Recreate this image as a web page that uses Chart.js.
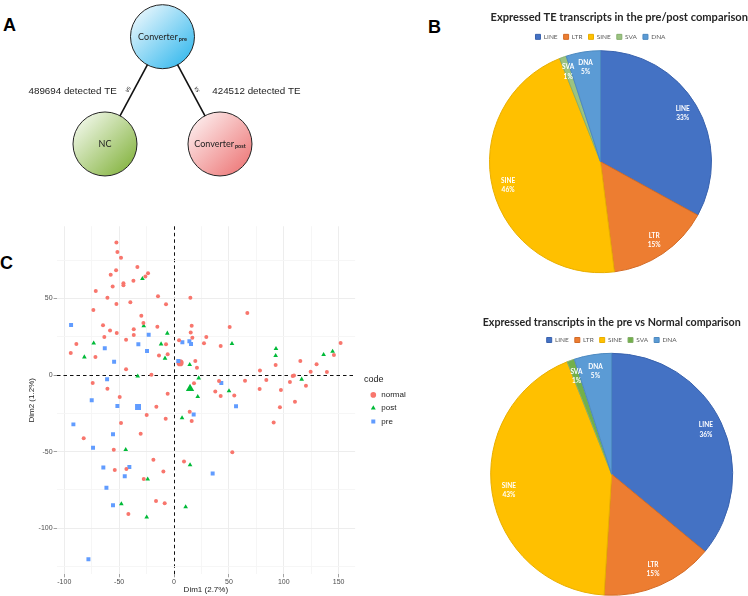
<!DOCTYPE html>
<html>
<head>
<meta charset="utf-8">
<script src="https://cdn.jsdelivr.net/npm/chart.js@4.4.1/dist/chart.umd.min.js"></script>
<style>
  html, body { margin: 0; padding: 0; background: #fff; }
  body { width: 748px; height: 596px; position: relative; overflow: hidden; }
  canvas { position: absolute; }
  .tag { position: absolute; font: bold 18px "Liberation Sans", Arial, sans-serif; line-height: 1; color: #000; }
</style>
</head>
<body>
<div class="tag" style="left:3px;top:16px">A</div>
<div class="tag" style="left:428px;top:18px">B</div>
<div class="tag" style="left:0px;top:254px">C</div>
<canvas id="diagram" width="340" height="190" style="left:0;top:0"></canvas>
<canvas id="pie1" width="308" height="300" style="left:440px;top:0"></canvas>
<canvas id="pie2" width="308" height="310" style="left:440px;top:300px"></canvas>
<canvas id="pca" width="440" height="406" style="left:0;top:190px"></canvas>
<script>
// ---- panel A: comparison diagram ----
const nodeNames = ['Converter', 'NC', 'Converter'];
const nodeSubs = ['pre', '', 'post'];
const nodeCol = [0, -1, 1];
const nodeRow = [1, 0, 0];
const edgeFrom = [0, 0];
const edgeTo = [1, 2];
const edgeCounts = [489694, 424512];

// ---- panel B: TE class shares (%) ----
const teClasses = ['LINE', 'LTR', 'SINE', 'SVA', 'DNA'];
const prePostShare = [33, 15, 46, 1, 5];
const preNormalShare = [36, 15, 43, 1, 5];

// ---- panel C: PCA coordinates ----
const codes = ['normal', 'post', 'pre'];
const normalX = [-52.5,-51.6,-48.3,-33.4,-23.7,-26.1,-52.8,-57.7,-55.9,-46.1,-46.1,-37.0,-71.3,-60.7,-14.6,14.9,-52.5,-39.8,-7.3,-73.5,66.8,-29.8,-27.9,-64.7,16.1,50.7,-15.2,-58.3,-36.7,15.2,-52.2,-36.7,-63.5,29.4,16.7,-43.7,4.6,-89.0,-7.3,27.3,42.5,-94.1,-71.6,-13.7,-5.8,19.4,92.6,20.9,-43.7,-20.6,78.3,115.1,129.9,124.5,139.3,145.7,151.8,108.1,109.3,-74.1,-60.7,-49.5,-5.8,18.2,41.0,64.7,84.1,78.0,97.4,105.6,120.2,37.6,42.5,54.9,110.2,96.5,-16.1,-24.9,-7.6,14.3,16.1,90.8,-48.3,-30.4,-82.3,-54.9,53.1,-18.8,9.1,-43.4,-54.0,-27.6,-9.7,-16.4,-8.5,-41.6];
const normalY = [86.5,80.2,76.5,70.4,66.3,64.3,68.3,65.4,57.8,59.8,58.5,61.5,54.8,50.4,51.3,50.4,46.3,47.4,46.1,42.4,40.4,38.7,33.9,32.4,32.2,31.3,31.5,29.1,29.8,27.8,27.4,26.1,24.8,24.8,24.3,23.0,22.6,20.2,20.0,20.7,18.9,14.3,11.7,12.8,13.5,9.1,6.5,4.8,3.7,0.2,3.0,9.1,7.0,2.2,2.0,13.0,20.9,-0.7,-0.4,-5.2,-8.9,-14.3,-12.2,-5.4,-3.9,-3.7,-3.3,-9.1,-9.8,-4.6,-7.0,-10.7,-13.7,-13.3,-17.4,-21.1,-20.7,-26.1,-28.5,-23.9,-30.0,-30.9,-31.3,-38.3,-41.3,-48.7,-50.4,-55.2,-56.5,-61.3,-62.0,-67.8,-63.0,-82.2,-83.7,-90.7];
const postX = [-28.8,-27.6,-6.1,-73.2,-11.8,52.8,-81.7,-8.2,14.3,-33.1,22.5,21.6,50.1,92.9,92.6,136.3,144.5,116.3,7.3,-44.0,14.6,-24.0,-48.0,10.6,-24.9];
const postY = [62.8,32.0,27.2,20.7,20.2,20.4,11.7,10.9,6.7,-0.7,-2.0,-14.1,-10.4,17.2,12.6,13.3,15.4,-2.8,-28.0,-48.7,-58.7,-68.0,-84.1,-86.1,-92.8];
const preX = [-93.8,-23.1,-32.5,7.6,14.0,15.5,-63.1,-24.6,-54.6,3.9,-61.0,43.1,-75.0,-51.6,56.5,17.9,-91.7,-55.6,-73.8,-64.4,-40.7,-44.9,-61.6,35.2,-55.6,-78.0];
const preY = [32.6,26.3,20.0,21.3,22.0,20.2,17.4,15.7,8.7,9.1,-2.8,-5.2,-16.5,-20.2,-20.4,-25.7,-32.2,-38.7,-47.4,-60.4,-60.0,-66.1,-73.5,-64.3,-85.0,-120.2];
const centerX = [5.5, 14.6, -32.8];
const centerY = [8.0, -8.9, -20.9];
const xTicks = [-100, -75, -50, -25, 0, 25, 50, 75, 100, 125, 150];
const yTicks = [-125, -100, -75, -50, -25, 0, 25, 50, 75];

// ---------------- diagram ----------------
const nodeLight = ['#E2F4FC', '#EDF5E3', '#FCE8E8'];
const nodeDark = ['#3FBCEE', '#8AB748', '#EE7E7E'];

const diagramText = {
    id: 'diagramText',
    afterDatasetsDraw(chart) {
        const ctx = chart.ctx;
        const pts = chart.getDatasetMeta(0).data;
        ctx.save();
        ctx.fillStyle = '#222';
        ctx.textBaseline = 'middle';
        pts.forEach((p, i) => {
            ctx.font = '9px Lato';
            const w1 = ctx.measureText(nodeNames[i]).width;
            ctx.font = 'bold 5.5px Lato';
            const w2 = nodeSubs[i] ? ctx.measureText(nodeSubs[i]).width + 1 : 0;
            const x0 = p.x - (w1 + w2) / 2;
            ctx.textAlign = 'left';
            ctx.font = '9px Lato';
            ctx.fillText(nodeNames[i], x0, p.y);
            if (nodeSubs[i]) {
                ctx.font = 'bold 5.5px Lato';
                ctx.fillText(nodeSubs[i], x0 + w1 + 1, p.y + 2.5);
            }
        });
        edgeFrom.forEach((f, i) => {
            const a = pts[f], b = pts[edgeTo[i]];
            const mx = (a.x + b.x) / 2, my = (a.y + b.y) / 2;
            const side = b.x < a.x ? -1 : 1;
            ctx.font = '9.8px "Liberation Sans"';
            ctx.textAlign = side < 0 ? 'right' : 'left';
            ctx.fillText(edgeCounts[i] + ' detected TE', mx + side * (side < 0 ? 17 : 21), my + 0.5);
            ctx.save();
            ctx.translate(mx + side * 6, my - 1);
            ctx.rotate(Math.atan2(b.y - a.y, b.x - a.x) + (side < 0 ? Math.PI : 0));
            ctx.font = 'italic 6.5px Lato';
            ctx.textAlign = 'center';
            ctx.fillText('vs', 0, 0);
            ctx.restore();
        });
        ctx.restore();
    }
};

new Chart(document.getElementById('diagram'), {
    type: 'bubble',
    data: {
        datasets: [
            {
                data: nodeCol.map((x, i) => ({ x: x, y: nodeRow[i] })),
                radius: 32,
                borderColor: '#222',
                borderWidth: 1,
                backgroundColor(c) {
                    const ch = c.chart;
                    if (c.dataIndex === undefined || !ch.chartArea) return nodeDark[0];
                    const i = c.dataIndex;
                    const cx = ch.scales.x.getPixelForValue(nodeCol[i]);
                    const cy = ch.scales.y.getPixelForValue(nodeRow[i]);
                    const g = ch.ctx.createLinearGradient(cx - 24, cy - 24, cx + 24, cy + 24);
                    g.addColorStop(0, nodeLight[i]);
                    g.addColorStop(1, nodeDark[i]);
                    return g;
                },
                order: 0
            },
            ...edgeFrom.map((f, i) => ({
                type: 'line',
                data: [{ x: nodeCol[f], y: nodeRow[f] }, { x: nodeCol[edgeTo[i]], y: nodeRow[edgeTo[i]] }],
                borderColor: '#111',
                borderWidth: 1.6,
                pointRadius: 0,
                order: 1
            }))
        ]
    },
    options: {
        responsive: false,
        animation: false,
        events: [],
        layout: { padding: 0, autoPadding: false },
        plugins: { legend: { display: false }, tooltip: { enabled: false } },
        scales: {
            x: { type: 'linear', display: false, min: -2.826, max: 3.087 },
            y: { type: 'linear', display: false, min: -0.429, max: 1.342 }
        }
    },
    plugins: [diagramText]
});

// ---------------- pies ----------------
const sliceColors = ['#4472C4', '#ED7D31', '#FFC000', '#9BC382', '#5B9BD5'];
const sliceBorders = ['#3A63AE', '#D36B26', '#E8AE00', '#86AF6C', '#4C89C0'];

const sliceLabels = {
    id: 'sliceLabels',
    afterDatasetsDraw(chart) {
        const ctx = chart.ctx;
        const vals = chart.data.datasets[0].data;
        ctx.save();
        ctx.fillStyle = '#fff';
        ctx.font = 'bold 6.5px Lato';
        ctx.textAlign = 'center';
        ctx.textBaseline = 'middle';
        chart.getDatasetMeta(0).data.forEach((arc, i) => {
            const p = arc.getProps(['x', 'y', 'startAngle', 'endAngle', 'outerRadius'], true);
            const a = (p.startAngle + p.endAngle) / 2;
            const d = p.outerRadius * 0.86;
            const px = p.x + Math.cos(a) * d, py = p.y + Math.sin(a) * d;
            ctx.fillText(chart.data.labels[i], px, py - 4.6);
            ctx.fillText(vals[i] + '%', px, py + 4.6);
        });
        ctx.restore();
    }
};

function pieChart(id, title, values, svaColor, radius, titleSize, titleAlign, titlePad, pad) {
    const bg = sliceColors.slice();
    bg[3] = svaColor;
    return new Chart(document.getElementById(id), {
        type: 'pie',
        data: {
            labels: teClasses,
            datasets: [{
                data: values,
                backgroundColor: bg,
                borderColor: sliceBorders,
                borderWidth: 1,
                radius: radius
            }]
        },
        options: {
            responsive: false,
            animation: false,
            events: [],
            layout: { padding: pad },
            plugins: {
                title: {
                    display: true,
                    text: title,
                    align: titleAlign,
                    color: '#262626',
                    font: { family: 'Lato', size: titleSize, weight: 'bold' },
                    padding: titlePad
                },
                legend: {
                    position: 'top',
                    labels: {
                        boxWidth: 5,
                        boxHeight: 5,
                        padding: 6,
                        color: '#595959',
                        font: { family: 'Lato', size: 6.5 }
                    }
                },
                tooltip: { enabled: false }
            }
        },
        plugins: [sliceLabels]
    });
}

pieChart('pie1', 'Expressed TE transcripts in the pre/post comparison', prePostShare, '#9BC382', 111,
    11.1, 'end', { top: 10.34, bottom: 3.94 }, { left: 13, right: 0, top: 0, bottom: 26.7 });
pieChart('pie2', 'Expressed transcripts in the pre vs Normal comparison', preNormalShare, '#72B04A', 121,
    10.7, 'center', { top: 16.58, bottom: 1.33 }, { left: 35.4, right: 0, top: 0, bottom: 14.65 });

// ---------------- PCA scatter ----------------
const codeColors = ['#F8766D', '#00BA38', '#619CFF'];
const codeShapes = ['circle', 'triangle', 'rect'];
const codeRadius = [2, 2.7, 2.8];
const centerRadius = [3.6, 4.8, 4.2];
const toPts = (xs, ys) => xs.map((x, i) => ({ x: x, y: ys[i] }));
const groups = [toPts(normalX, normalY), toPts(postX, postY), toPts(preX, preY)];
const isMajor = v => v % 50 === 0;
const axisFont = { family: '"Liberation Sans", Arial', size: 7 };

const pcaGrid = {
    color: c => c.tick ? (c.tick.value === 0 ? '#111' : (isMajor(c.tick.value) ? '#EBEBEB' : '#F5F5F5')) : '#EBEBEB',
    lineWidth: c => c.tick && c.tick.value === 0 ? 1 : 0.9,
    tickLength: 3,
    tickColor: c => c.tick && isMajor(c.tick.value) ? '#999' : 'rgba(0,0,0,0)'
};
const pcaBorder = { display: false, dash: c => c.tick && c.tick.value === 0 ? [3.5, 3] : [] };

new Chart(document.getElementById('pca'), {
    type: 'scatter',
    data: {
        datasets: [
            ...codes.map((code, k) => ({
                label: code,
                data: groups[k],
                pointStyle: codeShapes[k],
                radius: codeRadius[k],
                backgroundColor: codeColors[k],
                borderColor: codeColors[k],
                borderWidth: 0
            })),
            ...codes.map((code, k) => ({
                label: code + ' centre',
                data: [{ x: centerX[k], y: centerY[k] }],
                pointStyle: codeShapes[k],
                radius: centerRadius[k],
                backgroundColor: codeColors[k],
                borderColor: codeColors[k],
                borderWidth: 0
            }))
        ]
    },
    options: {
        responsive: false,
        animation: false,
        events: [],
        layout: { padding: { left: 0, top: 36.3, right: 26, bottom: 0 } },
        scales: {
            x: {
                type: 'linear', min: -107, max: 165,
                afterBuildTicks: s => { s.ticks = xTicks.map(v => ({ value: v })); },
                afterFit: s => { s.height = 21.7; },
                ticks: { callback: v => isMajor(v) ? String(v) : '', font: axisFont, color: '#4D4D4D', padding: 1, maxRotation: 0, autoSkip: false },
                grid: pcaGrid,
                border: pcaBorder,
                title: { display: true, text: 'Dim1 (2.7%)', color: '#222', font: { family: '"Liberation Sans", Arial', size: 8 }, padding: { top: 0, bottom: 1.2 } }
            },
            y: {
                type: 'linear', min: -130, max: 97,
                afterBuildTicks: s => { s.ticks = yTicks.map(v => ({ value: v })); },
                afterFit: s => { s.width = 56.6; },
                ticks: { callback: v => isMajor(v) ? String(v) : '', font: axisFont, color: '#4D4D4D', padding: 1, autoSkip: false },
                grid: pcaGrid,
                border: pcaBorder,
                title: { display: true, text: 'Dim2 (1.2%)', color: '#222', font: { family: '"Liberation Sans", Arial', size: 8 }, padding: { top: 27, bottom: 0 } }
            },
            y2: {
                position: 'right', display: true,
                grid: { display: false, drawTicks: false },
                ticks: { display: false },
                border: { display: false },
                afterFit: s => { s.width = 8.9; }
            }
        },
        plugins: {
            tooltip: { enabled: false },
            legend: {
                position: 'right',
                align: 'start',
                maxWidth: 50,
                title: { display: true, text: 'code', position: 'start', color: '#222', font: { family: '"Liberation Sans", Arial', size: 9 }, padding: { top: 148.5, bottom: 0 } },
                labels: {
                    usePointStyle: true,
                    boxWidth: 9,
                    boxHeight: 4,
                    padding: 5.3,
                    color: '#222',
                    font: { family: '"Liberation Sans", Arial', size: 8 },
                    filter: item => item.datasetIndex < codes.length
                }
            }
        }
    }
});
</script>
</body>
</html>
